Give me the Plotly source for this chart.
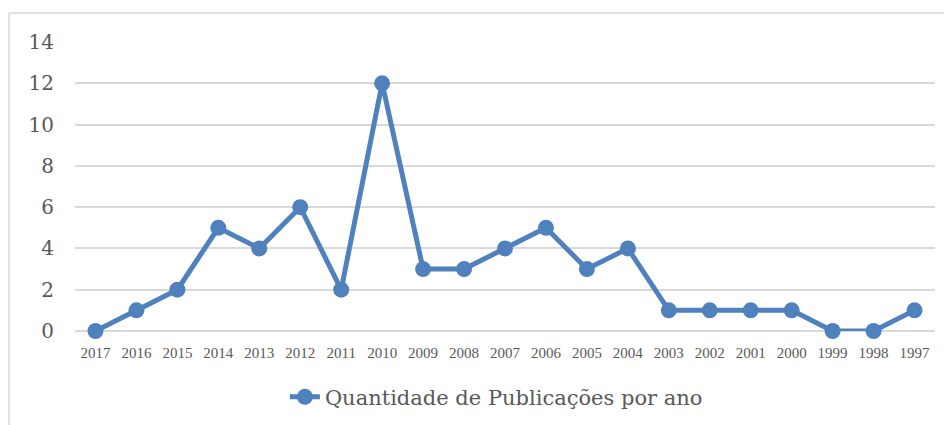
import plotly.graph_objects as go

years = ["2017", "2016", "2015", "2014", "2013", "2012", "2011", "2010", "2009", "2008",
         "2007", "2006", "2005", "2004", "2003", "2002", "2001", "2000", "1999", "1998", "1997"]
counts = [0, 1, 2, 5, 4, 6, 2, 12, 3, 3, 4, 5, 3, 4, 1, 1, 1, 1, 0, 0, 1]
series_name = "Quantidade de Publicações por ano"
y_ticks = [0, 2, 4, 6, 8, 10, 12, 14]

blue = "#4F81BD"

fig = go.Figure()
fig.add_trace(go.Scatter(
    x=years, y=counts, name=series_name, mode="lines+markers",
    line=dict(color=blue, width=5),
    marker=dict(color=blue, size=16),
    cliponaxis=False,
    showlegend=True,
))

# page body has an 8px margin, so the figure is sized/offset to compensate
fig.update_layout(
    width=944, height=417,
    margin=dict(l=67, r=17, t=34, b=94, autoexpand=False),
    paper_bgcolor="white", plot_bgcolor="white",
    font=dict(family="Liberation Serif, DejaVu Serif, serif", color="#595959"),
    xaxis=dict(type="category", showgrid=False, showline=False, zeroline=False,
               tickfont=dict(size=15, family="Liberation Serif, serif", color="#595959"),
               ticks="", range=[-0.5, len(years) - 0.5], automargin=False,
               ticklabelstandoff=11),
    yaxis=dict(range=[0, 14], tickvals=y_ticks, showgrid=True, gridcolor="#D9D9D9",
               gridwidth=1.5, zeroline=True, zerolinecolor="#D9D9D9", zerolinewidth=1.5,
               showline=False, ticks="", automargin=False,
               tickfont=dict(size=20, family="DejaVu Serif, serif", color="#595959"),
               ticklabelstandoff=20),
    legend=dict(orientation="h", x=0.49, xanchor="center", y=-0.158, yanchor="top",
                font=dict(size=21, family="DejaVu Serif, serif", color="#595959")),
    shapes=[
        dict(type="line", xref="paper", yref="paper", x0=-0.0767, x1=1.05, y0=1.1003, y1=1.1003,
             line=dict(color="#D9D9D9", width=1.5)),
        dict(type="line", xref="paper", yref="paper", x0=-0.0767, x1=-0.0767, y0=1.1003, y1=-0.5,
             line=dict(color="#D9D9D9", width=1.5)),
    ],
)

fig.write_html("out.html")
